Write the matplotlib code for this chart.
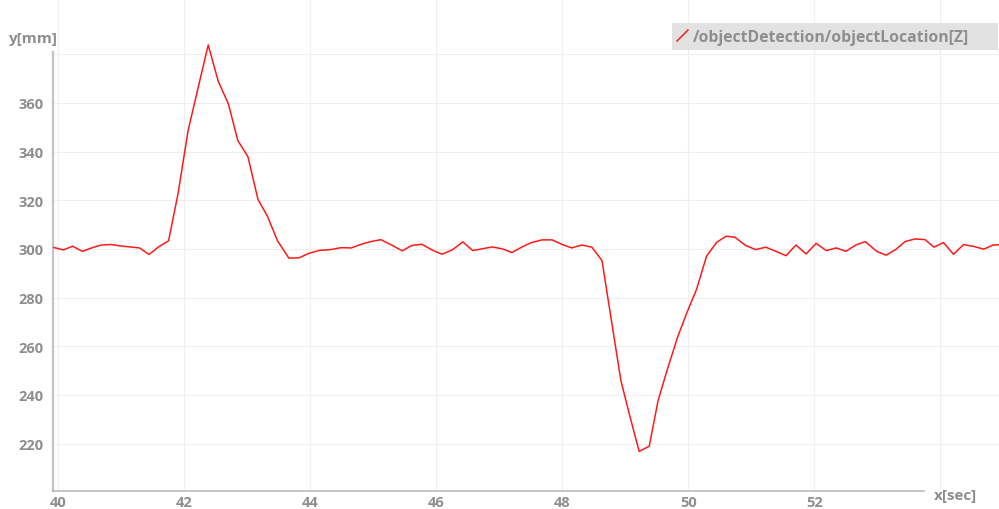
import matplotlib.pyplot as plt
from matplotlib.patches import Rectangle
from matplotlib.lines import Line2D

# --- DATA ---
time_sec = [
    39.91, 40.08, 40.23, 40.38, 40.53, 40.68, 40.84, 40.99, 41.14, 41.29,
    41.44, 41.59, 41.75, 41.90, 42.06, 42.22, 42.38, 42.54, 42.70, 42.85,
    43.01, 43.17, 43.32, 43.48, 43.66, 43.82, 43.99, 44.15, 44.32, 44.49,
    44.65, 44.82, 44.96, 45.12, 45.29, 45.46, 45.61, 45.77, 45.93, 46.09,
    46.26, 46.42, 46.58, 46.74, 46.89, 47.05, 47.20, 47.36, 47.51, 47.68,
    47.84, 47.99, 48.15, 48.31, 48.47, 48.63, 48.93, 49.08, 49.22, 49.38,
    49.52, 49.67, 49.83, 49.97, 50.13, 50.29, 50.45, 50.60, 50.74, 50.91,
    51.07, 51.23, 51.40, 51.55, 51.71, 51.87, 52.03, 52.19, 52.35, 52.50,
    52.66, 52.81, 52.99, 53.14, 53.29, 53.44, 53.60, 53.76, 53.90, 54.05,
    54.21, 54.37, 54.53, 54.69, 54.84, 54.99,
]
location_z = [
    300.7, 299.6, 301.1, 299.0, 300.4, 301.6, 301.8, 301.2, 300.8, 300.4,
    297.7, 300.8, 303.3, 322.6, 348.6, 366.3, 383.8, 368.8, 359.6, 344.5,
    337.9, 320.3, 313.4, 303.3, 296.2, 296.3, 298.3, 299.4, 299.7, 300.5,
    300.4, 302.0, 303.0, 303.8, 301.6, 299.2, 301.4, 301.9, 299.6, 297.8,
    299.7, 302.9, 299.3, 300.1, 300.8, 300.0, 298.5, 300.8, 302.6, 303.7,
    303.7, 301.9, 300.4, 301.6, 300.7, 295.2, 245.9, 230.5, 216.8, 218.9,
    237.6, 250.7, 263.7, 273.3, 283.3, 297.0, 302.7, 305.2, 304.8, 301.4,
    299.7, 300.7, 298.9, 297.2, 301.6, 297.9, 302.3, 299.3, 300.4, 299.0,
    301.6, 303.0, 299.0, 297.4, 299.7, 303.0, 304.1, 303.8, 300.7, 302.6,
    297.8, 301.8, 301.0, 299.9, 301.6, 301.8,
]
x_ticks = [40, 42, 44, 46, 48, 50, 52, 54]
x_tick_labels = ["40", "42", "44", "46", "48", "50", "52", ""]
y_ticks = [220, 240, 260, 280, 300, 320, 340, 360, 380]
y_tick_labels = ["220", "240", "260", "280", "300", "320", "340", "360", ""]
series_name = "/objectDetection/objectLocation[Z]"

TEXT_GRAY = "#8e8e8e"
FONT = "Open Sans"

W, H = 999, 510
fig = plt.figure(figsize=(W / 100, H / 100), dpi=100)
ax = fig.add_axes([53 / W, 18 / H, 946 / W, 492 / H])

ax.plot(time_sec, location_z, color="#ff1a1a", linewidth=1.1, zorder=3)

ax.set_xlim(39.916, 54.932)
ax.set_ylim(200.5, 402.7)

ax.set_xticks(x_ticks)
ax.set_xticklabels(x_tick_labels)
ax.set_yticks(y_ticks)
ax.set_yticklabels(y_tick_labels)
ax.tick_params(length=0, colors=TEXT_GRAY, labelsize=10.5)
ax.tick_params(axis="x", pad=3)
ax.tick_params(axis="y", pad=7)
for lbl in ax.get_xticklabels() + ax.get_yticklabels():
    lbl.set_fontfamily(FONT)
    lbl.set_fontweight("bold")

ax.grid(True, color="#efefef", linewidth=0.8, zorder=0)

for side in ("top", "right"):
    ax.spines[side].set_visible(False)
ax.spines["left"].set_color("#c4c4c4")
ax.spines["left"].set_linewidth(1.6)
ax.spines["left"].set_bounds(200.5, 381)
ax.spines["bottom"].set_color("#b4b4b4")
ax.spines["bottom"].set_linewidth(1.1)
ax.spines["bottom"].set_bounds(39.916, 53.74)

# axis titles
fig.text(8 / W, 1 - 39 / H, "y[mm]", color=TEXT_GRAY, fontsize=11,
         fontfamily=FONT, fontweight="bold", va="center", ha="left")
fig.text(934 / W, 1 - 496 / H, "x[sec]", color=TEXT_GRAY, fontsize=11,
         fontfamily=FONT, fontweight="bold", va="center", ha="left")

# legend box
fig.patches.append(Rectangle((672 / W, 1 - 51 / H), 326 / W, 27 / H,
                             transform=fig.transFigure, facecolor="#e2e2e2",
                             edgecolor="none", zorder=5))
fig.lines.append(Line2D([677 / W, 688 / W], [1 - 42 / H, 1 - 31 / H],
                        transform=fig.transFigure, color="#ff1a1a",
                        linewidth=1.1, zorder=6))
fig.text(693 / W, 1 - 38 / H, series_name, color=TEXT_GRAY, fontsize=11.3,
         fontfamily=FONT, fontweight="bold", va="center", ha="left",
         zorder=6)

fig.savefig("out.png", dpi=100)
